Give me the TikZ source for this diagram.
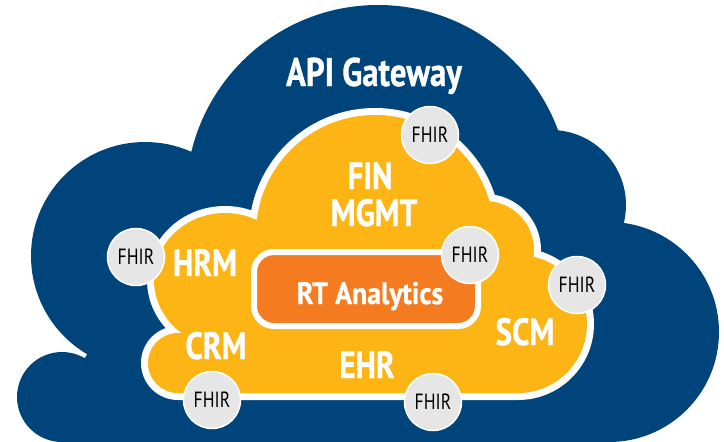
\documentclass[tikz,border=0pt]{standalone}
\usepackage{fontspec}
\newfontfamily\lblfont{PT Sans}[FakeStretch=0.82, BoldFeatures={FakeBold=0.8}]
\newfontfamily\rtfont{PT Sans}[FakeStretch=0.9, BoldFeatures={FakeBold=0.8}]
\newfontfamily\fhirfont{PT Sans}[FakeStretch=0.8]
\definecolor{cloudblue}{HTML}{00447C}
\definecolor{cloudyellow}{HTML}{FDB515}
\definecolor{rtorange}{HTML}{F47B20}
\definecolor{fhirgray}{HTML}{E6E6E6}
\begin{document}
\begin{tikzpicture}[x=1pt,y=-1pt,
  lbl/.style={text=white, font=\lblfont\bfseries\fontsize{38}{38}\selectfont, inner sep=0pt, anchor=base},
  fhir/.style={circle, fill=fhirgray, draw=white, line width=1.5pt, minimum size=57pt, inner sep=0pt,
     font=\fhirfont\fontsize{22}{22}\selectfont, text=black},
  rtbox/.style={draw=white, line width=6pt, fill=rtorange, rounded corners=20pt, inner sep=0pt}]
\useasboundingbox (0,0) rectangle (724,442);
% outer cloud (API Gateway)
\fill[cloudblue] (378,197) circle[radius=192] (145,256) circle[radius=114] (62,397) circle[radius=45]
  (551,205) circle[radius=75] (609,332) circle[radius=110];
\fill[cloudblue] (145,256) -- (378,197) -- (551,205) -- (609,332) -- (609,442) -- (62,442) -- (62,397) -- cycle;
% inner cloud: white rim
\fill[white] (375,234) circle[radius=126] (225,280) ellipse[x radius=78, y radius=74] (178,363) circle[radius=37]
  (485,250) circle[radius=56] (518,324) circle[radius=76];
\fill[white] (225,280) -- (375,234) -- (485,250) -- (518,324) -- (518,400) -- (178,400) -- (178,363) -- cycle;
% inner cloud: yellow
\fill[cloudyellow] (375,234) circle[radius=119] (225,280) ellipse[x radius=71, y radius=67] (178,363) circle[radius=30]
  (485,250) circle[radius=49] (518,324) circle[radius=69];
\fill[cloudyellow] (225,280) -- (375,234) -- (485,250) -- (518,324) -- (518,393) -- (178,393) -- (178,363) -- cycle;
% RT Analytics
\node[rtbox, minimum width=224pt, minimum height=74pt] (rt) at (366,289) {};
\node[lbl, font=\rtfont\bfseries\fontsize{31}{31}\selectfont] (rtlabel) at (370,304) {RT Analytics};
% labels
\node[lbl, font=\lblfont\bfseries\fontsize{40}{40}\selectfont] (api) at (374,86) {API Gateway};
\node[lbl] (fin) at (370,189) {FIN};
\node[lbl] (mgmt) at (374,226) {MGMT};
\node[lbl] (hrm) at (205,276) {HRM};
\node[lbl] (crm) at (216,359) {CRM};
\node[lbl] (ehr) at (367,378) {EHR};
\node[lbl] (scm) at (525,345) {SCM};
% FHIR connectors
\node[fhir] (f1) at (430,135) {FHIR};
\node[fhir] (f2) at (136,257) {FHIR};
\node[fhir] (f3) at (470,255) {FHIR};
\node[fhir] (f4) at (577,285) {FHIR};
\node[fhir] (f5) at (212,400) {FHIR};
\node[fhir] (f6) at (433,402) {FHIR};
\end{tikzpicture}
\end{document}
